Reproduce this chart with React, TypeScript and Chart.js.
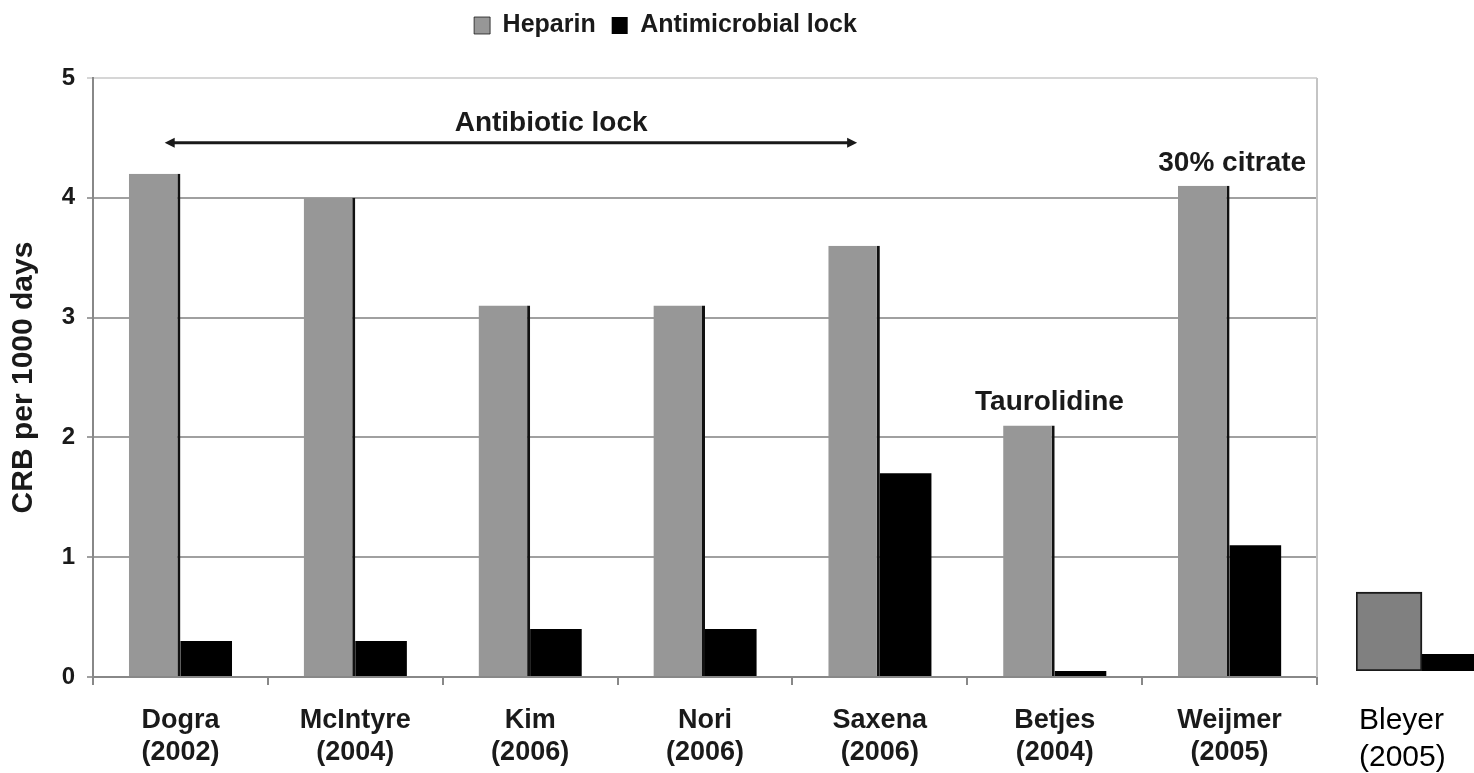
import React, { useEffect, useRef } from "react";
import { Chart, registerables } from "chart.js";

Chart.register(...registerables);

// ---- data ----
const categories: string[][] = [
  ["Dogra", "(2002)"],
  ["McIntyre", "(2004)"],
  ["Kim", "(2006)"],
  ["Nori", "(2006)"],
  ["Saxena", "(2006)"],
  ["Betjes", "(2004)"],
  ["Weijmer", "(2005)"],
];
const heparin = [4.2, 4.0, 3.1, 3.1, 3.6, 2.1, 4.1];
const antimicrobialLock = [0.3, 0.3, 0.4, 0.4, 1.7, 0.05, 1.1];
const seriesNames = ["Heparin", "Antimicrobial lock"];
const yTickValues = [0, 1, 2, 3, 4, 5];
const yTitle = "CRB per 1000 days";
const annotationTexts = ["Antibiotic lock", "Taurolidine", "30% citrate"];
const bleyerLabel = ["Bleyer", "(2005)"];
const bleyerHeparin = [0.66];
const bleyerLock = [0.14];

const FONT = "'Liberation Sans', Arial, Helvetica, sans-serif";

export default function App() {
  const mainRef = useRef<HTMLCanvasElement>(null);
  const miniRef = useRef<HTMLCanvasElement>(null);

  useEffect(() => {
    Chart.defaults.font.family = FONT;

    const legendHeightPlugin = {
      id: "legendHeight",
      beforeLayout(chart: any) {
        const lg = chart.legend;
        if (!lg || lg._patched) return;
        const orig = lg.fit;
        lg.fit = function () {
          orig.call(this);
          this.height = 81;
        };
        lg._patched = true;
      },
    };

    const annotationPlugin = {
      id: "annotations",
      afterDatasetsDraw(chart: any) {
        const { ctx, chartArea } = chart;
        const x = chart.scales.x;
        const y = chart.scales.y;
        const cw = x.getPixelForValue(1) - x.getPixelForValue(0);
        ctx.save();
        // right frame line
        ctx.strokeStyle = "#c4c4c4";
        ctx.lineWidth = 2;
        ctx.beginPath();
        ctx.moveTo(chartArea.right, chartArea.top);
        ctx.lineTo(chartArea.right, chartArea.bottom);
        ctx.stroke();

        ctx.fillStyle = "#1a1a1a";
        ctx.strokeStyle = "#1a1a1a";
        // double arrow
        const ay = y.getPixelForValue(4.46);
        const x1 = x.getPixelForValue(0) - 0.09 * cw;
        const x2 = x.getPixelForValue(4) - 0.13 * cw;
        ctx.lineWidth = 3;
        ctx.beginPath();
        ctx.moveTo(x1 + 6, ay);
        ctx.lineTo(x2 - 6, ay);
        ctx.stroke();
        ctx.beginPath();
        ctx.moveTo(x1, ay);
        ctx.lineTo(x1 + 10, ay - 5);
        ctx.lineTo(x1 + 10, ay + 5);
        ctx.closePath();
        ctx.fill();
        ctx.beginPath();
        ctx.moveTo(x2, ay);
        ctx.lineTo(x2 - 10, ay - 5);
        ctx.lineTo(x2 - 10, ay + 5);
        ctx.closePath();
        ctx.fill();

        ctx.font = `bold 28px ${FONT}`;
        ctx.textAlign = "center";
        ctx.textBaseline = "middle";
        ctx.fillText(annotationTexts[0], x.getPixelForValue(2) + 0.12 * cw, y.getPixelForValue(4.62));
        ctx.fillText(annotationTexts[1], x.getPixelForValue(5) - 0.03 * cw, y.getPixelForValue(2.29));
        ctx.fillText(annotationTexts[2], x.getPixelForValue(6) + 0.015 * cw, y.getPixelForValue(4.29));
        ctx.restore();
      },
    };

    const main = new Chart(mainRef.current as HTMLCanvasElement, {
      type: "bar",
      data: {
        labels: categories,
        datasets: [
          {
            label: seriesNames[0],
            data: heparin,
            backgroundColor: "#979797",
            borderColor: "#111111",
            borderWidth: { top: 0, right: 3, bottom: 0, left: 0 },
            categoryPercentage: 0.59,
            barPercentage: 1,
          },
          {
            label: seriesNames[1],
            data: antimicrobialLock,
            backgroundColor: "#000000",
            borderWidth: 0,
            categoryPercentage: 0.59,
            barPercentage: 1,
          },
        ],
      },
      options: {
        responsive: true,
        maintainAspectRatio: false,
        animation: false,
        events: [],
        layout: { padding: { left: 14, right: 157, top: -3, bottom: 0 } },
        plugins: {
          tooltip: { enabled: false },
          legend: {
            display: true,
            position: "top",
            labels: {
              boxWidth: 16,
              boxHeight: 17,
              padding: 16,
              color: "#1a1a1a",
              font: { size: 25, weight: "bold", family: FONT },
            },
          },
        },
        scales: {
          x: {
            afterFit(scale: any) {
              scale.height = 96;
            },
            grid: {
              display: true,
              drawOnChartArea: false,
              drawTicks: true,
              tickLength: 8,
              color: "#888888",
              lineWidth: 2,
              offset: true,
            },
            border: { display: true, color: "#888888", width: 2 },
            ticks: {
              color: "#1a1a1a",
              padding: 19,
              maxRotation: 0,
              autoSkip: false,
              font: { size: 27, weight: "bold", family: FONT, lineHeight: 1.19 },
            },
          },
          y: {
            min: 0,
            max: 5,
            afterFit(scale: any) {
              scale.width = 79;
            },
            afterBuildTicks(scale: any) {
              scale.ticks = yTickValues.map((v) => ({ value: v }));
            },
            grid: {
              color: (c: any) => (c.tick && c.tick.value === 5 ? "#d6d6d6" : "#a0a0a0"),
              lineWidth: 2,
              tickLength: 6,
            },
            border: { display: true, color: "#888888", width: 2 },
            ticks: {
              color: "#1a1a1a",
              padding: 12,
              font: { size: 24, weight: "bold", family: FONT },
            },
            title: {
              display: true,
              text: yTitle,
              color: "#1a1a1a",
              padding: { top: -8, bottom: 0 },
              font: { size: 30, weight: "bold", family: FONT, lineHeight: 1.2 },
            },
          },
        },
      },
      plugins: [legendHeightPlugin, annotationPlugin],
    } as any);

    const mini = new Chart(miniRef.current as HTMLCanvasElement, {
      type: "bar",
      data: {
        labels: [bleyerLabel],
        datasets: [
          {
            label: seriesNames[0],
            data: bleyerHeparin,
            backgroundColor: "#808080",
            borderColor: "#1a1a1a",
            borderWidth: 2,
            borderSkipped: false,
            categoryPercentage: 1,
            barPercentage: 1,
          },
          {
            label: seriesNames[1],
            data: bleyerLock,
            backgroundColor: "#000000",
            borderWidth: 0,
            categoryPercentage: 1,
            barPercentage: 1,
          },
        ],
      },
      options: {
        responsive: false,
        animation: false,
        events: [],
        layout: { padding: 0 },
        plugins: { legend: { display: false }, tooltip: { enabled: false } },
        scales: {
          x: { display: false },
          y: { display: false, min: 0, max: 0.72 },
        },
      },
    } as any);

    return () => {
      main.destroy();
      mini.destroy();
    };
  }, []);

  return (
    <>
      <div
        style={{
          position: "fixed",
          left: 0,
          top: 0,
          width: 1474,
          height: 773,
          background: "#ffffff",
        }}
      >
        <canvas ref={mainRef} />
      </div>
      <div
        style={{
          position: "fixed",
          left: 1356,
          top: 585,
          width: 118,
          height: 86,
          overflow: "hidden",
        }}
      >
        <canvas ref={miniRef} width={132} height={86} style={{ width: 132, height: 86 }} />
      </div>
      <div
        style={{
          position: "fixed",
          left: 1359,
          top: 700,
          fontFamily: FONT,
          fontSize: 30,
          lineHeight: "37px",
          color: "#000",
          whiteSpace: "nowrap",
        }}
      >
        {bleyerLabel.map((t, i) => (
          <div key={i}>{t}</div>
        ))}
      </div>
    </>
  );
}
